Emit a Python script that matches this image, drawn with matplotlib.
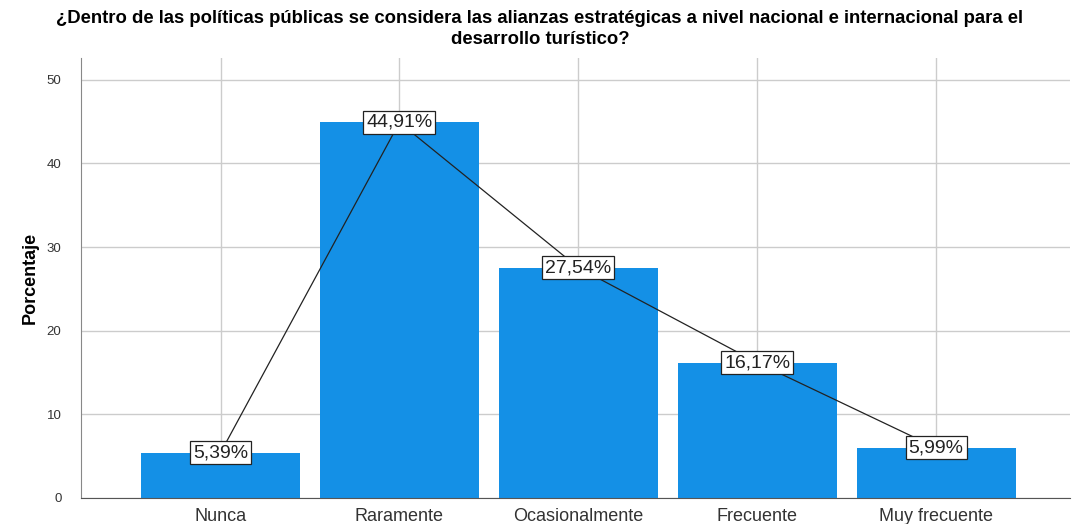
import matplotlib.pyplot as plt

categorias = ['Nunca', 'Raramente', 'Ocasionalmente', 'Frecuente', 'Muy frecuente']
porcentajes = [5.39, 44.91, 27.54, 16.17, 5.99]
etiquetas = ['5,39%', '44,91%', '27,54%', '16,17%', '5,99%']

plt.rcParams['font.family'] = ['Liberation Sans', 'DejaVu Sans']

fig = plt.figure(figsize=(10.8, 5.24), dpi=100)
ax = fig.add_axes([0.075, 0.05, 0.916, 0.839])

x = range(len(categorias))
ax.bar(x, porcentajes, width=0.89, color='#1490E6', zorder=2)
ax.plot(x, porcentajes, color='#222222', linewidth=0.9, zorder=3)

for xi, v, t in zip(x, porcentajes, etiquetas):
    ax.text(xi, v, t, ha='center', va='center', fontsize=14,
            color='#222222', zorder=4,
            bbox=dict(boxstyle='square,pad=0.15', facecolor='white', edgecolor='#222222', linewidth=0.9))

ax.set_xlim(-0.78, 4.75)
ax.set_ylim(0, 52.6)
ax.set_yticks([0, 10, 20, 30, 40, 50])
ax.set_xticks(list(x))
ax.set_xticklabels(categorias, fontsize=13, color='#333333')
ax.tick_params(axis='y', labelsize=9.5, colors='#333333', length=0, pad=14)
ax.tick_params(axis='x', length=0, pad=7)

ax.grid(True, color='#cccccc', linewidth=1, zorder=0)
ax.set_axisbelow(True)
for s in ['top', 'right']:
    ax.spines[s].set_visible(False)
ax.spines['left'].set_color('#888888')
ax.spines['bottom'].set_color('#555555')

ax.set_ylabel('Porcentaje', fontsize=13, fontweight='bold', labelpad=6)
fig.suptitle('¿Dentro de las políticas públicas se considera las alianzas estratégicas a nivel nacional e internacional para el\ndesarrollo turístico?',
             fontsize=13.3, fontweight='bold', y=0.98, linespacing=1.25)

fig.savefig('out.png', dpi=100)
